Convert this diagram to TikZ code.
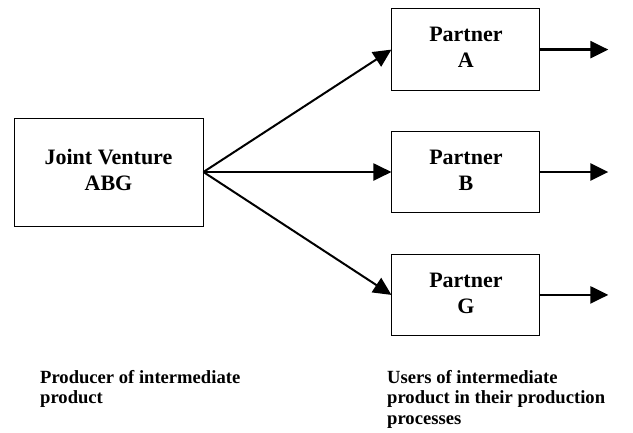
\documentclass[tikz,border=0pt]{standalone}
\usepackage{fontspec}
\setmainfont{Liberation Serif}
\usepackage{tikz}
\usetikzlibrary{positioning}
\usetikzlibrary{arrows.meta}

\begin{document}
\begin{tikzpicture}[x=1pt,y=-1pt,
  unitbox/.style={draw,line width=0.9pt,align=center,inner sep=0pt,text depth=4pt,font=\fontsize{22}{26}\selectfont\bfseries},
  flow/.style={->,>={Triangle[length=18pt,width=17pt]},line width=2pt},
  caption/.style={anchor=north west,align=left,inner sep=0pt,font=\fontsize{18.6}{20.5}\selectfont\bfseries}]
\useasboundingbox (0,0) rectangle (633,432);

\node (jv) at (108.5,172) [unitbox,minimum width=189pt,minimum height=108pt] {Joint Venture\\ABG};
\node (partB) [right=188pt of jv] [unitbox,minimum width=148pt,minimum height=81pt] {Partner\\B};
\node (partA) [above=40pt of partB] [unitbox,minimum width=148pt,minimum height=82pt] {Partner\\A};
\node (partG) [below=41pt of partB] [unitbox,minimum width=148pt,minimum height=81pt] {Partner\\G};

\coordinate (outA) at ([xshift=68pt]partA.east);
\coordinate (outB) at ([xshift=68pt]partB.east);
\coordinate (outG) at ([xshift=68pt]partG.east);

\draw[flow] (jv.east) -- (partA.west);
\draw[flow] (jv.east) -- (partB.west);
\draw[flow] (jv.east) -- (partG.west);
\draw[flow,line width=2.5pt] (partA) -- (outA);
\draw[flow,line width=2.5pt] (partB) -- (outB);
\draw[flow,line width=2.5pt] (partG) -- (outG);

\node (producer) at (40,370) [caption] {Producer of intermediate\\product};
\node (users) at (387,370) [caption] {Users of intermediate\\product in their production\\processes};
\end{tikzpicture}
\end{document}
